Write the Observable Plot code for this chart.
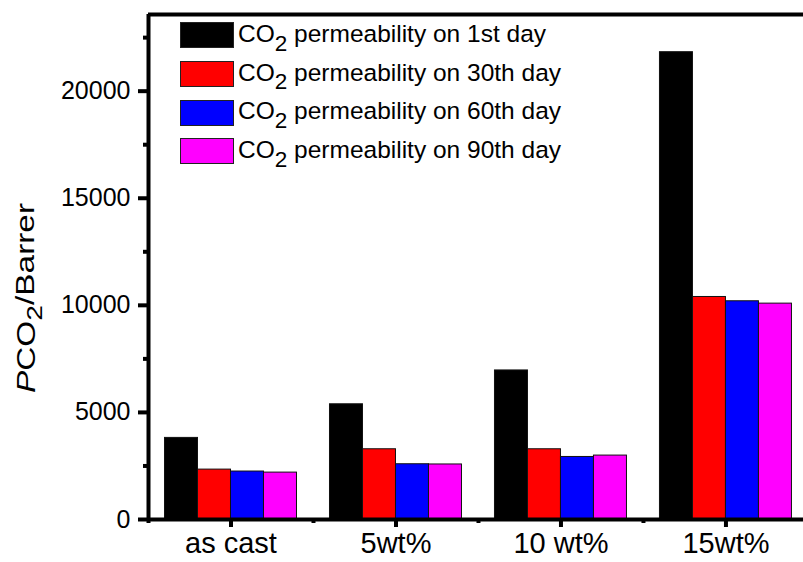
<!DOCTYPE html>
<html>
<head>
<meta charset="utf-8">
<script src="https://cdn.jsdelivr.net/npm/d3@7"></script>
<script src="https://cdn.jsdelivr.net/npm/@observablehq/plot@0.6"></script>
<style>
  html, body { margin: 0; padding: 0; background: #fff; overflow: hidden; }
  #wrap { position: relative; width: 803px; height: 562px; font-family: "Liberation Sans", Arial, sans-serif; }
  #legend { position: absolute; left: 180px; top: 16px; }
  .row { display: flex; align-items: center; height: 38.7px; }
  .sw { width: 52px; height: 24px; border: 1px solid #222; box-sizing: content-box; margin-right: 4px; }
  .lt { font-size: 24.5px; color: #000; white-space: nowrap; line-height: 1; position: relative; top: -1px; }
  .lt sub { font-size: 0.92em; position: relative; top: 0.12em; vertical-align: sub; line-height: 0; }
</style>
</head>
<body>
<div id="wrap"></div>
<script>
// ---- data ----
const categories = ["as cast", "5wt%", "10 wt%", "15wt%"];
const seriesNames = ["1st day", "30th day", "60th day", "90th day"];
const seriesColors = ["#000000", "#ff0000", "#0000ff", "#ff00ff"];
const day1  = [3810, 5380, 6960, 21820];
const day30 = [2330, 3280, 3280, 10390];
const day60 = [2240, 2580, 2920, 10190];
const day90 = [2190, 2570, 2985, 10080];
const yMajorTicks = [0, 5000, 10000, 15000, 20000];
const yMinorTicks = [2500, 7500, 12500, 17500, 22500];
const yMax = 23580;
const xMinorTicks = [-0.5, 0.5, 1.5, 2.5];

const allSeries = [day1, day30, day60, day90];
const groupWidth = 0.8;
const barW = groupWidth / seriesNames.length;
const rows = [];
allSeries.forEach((vals, j) => {
  vals.forEach((v, i) => {
    const x1 = i - groupWidth / 2 + j * barW;
    rows.push({cat: categories[i], series: seriesNames[j], x1, x2: x1 + barW, value: v});
  });
});

const font = '"Liberation Sans", Arial, sans-serif';

const chart = Plot.plot({
  width: 803,
  height: 562,
  marginLeft: 148,
  marginRight: 0,
  marginTop: 14,
  marginBottom: 43,
  style: {fontFamily: font, background: "#fff", color: "#000"},
  x: {type: "linear", domain: [-0.5, 3.47], axis: null},
  y: {domain: [0, yMax], axis: null},
  color: {domain: seriesNames, range: seriesColors},
  marks: [
    Plot.rectY(rows, {x1: "x1", x2: "x2", y1: 0, y2: "value", fill: "series", stroke: "#111", strokeWidth: 1}),
    // axis lines
    Plot.ruleY([0], {strokeWidth: 4, stroke: "#000"}),
    Plot.ruleY([yMax], {strokeWidth: 4, stroke: "#000"}),
    Plot.ruleX([-0.5], {strokeWidth: 4, stroke: "#000"}),
    // y axis
    Plot.axisY(yMajorTicks, {anchor: "left", tickSize: 10, tickPadding: 8, fontSize: 25, label: null, strokeWidth: 4, tickFormat: d => String(d)}),
    Plot.axisY(yMinorTicks, {anchor: "left", tickSize: 5, strokeWidth: 4, tickFormat: () => "", label: null}),
    // x axis
    Plot.axisX([0, 1, 2, 3], {anchor: "bottom", tickSize: 8, tickPadding: 5, fontSize: 29, strokeWidth: 4, label: null, tickFormat: i => categories[i]}),
    Plot.axisX(xMinorTicks, {anchor: "bottom", tickSize: 4, strokeWidth: 4, tickFormat: () => "", label: null})
  ]
});

const wrap = document.getElementById("wrap");
wrap.appendChild(chart);

const svg = d3.select(chart);

// y axis title with italic P and subscript 2
const yl = svg.append("text")
  .attr("transform", "translate(35,298) rotate(-90)")
  .attr("text-anchor", "middle")
  .attr("font-family", font)
  .attr("font-size", 26)
  .attr("textLength", 190)
  .attr("lengthAdjust", "spacingAndGlyphs")
  .attr("fill", "#000");
yl.append("tspan").attr("font-style", "italic").text("P");
yl.append("tspan").text("CO");
yl.append("tspan").attr("dy", "0.3em").attr("font-size", "0.85em").text("2");
yl.append("tspan").attr("dy", "-0.3em").text("/Barrer");

// legend
const legend = document.createElement("div");
legend.id = "legend";
seriesNames.forEach((name, j) => {
  const row = document.createElement("div");
  row.className = "row";
  const sw = document.createElement("div");
  sw.className = "sw";
  sw.style.background = seriesColors[j];
  const t = document.createElement("span");
  t.className = "lt";
  t.innerHTML = "CO<sub>2</sub> permeability on " + name;
  row.appendChild(sw);
  row.appendChild(t);
  legend.appendChild(row);
});
wrap.appendChild(legend);
</script>
</body>
</html>
